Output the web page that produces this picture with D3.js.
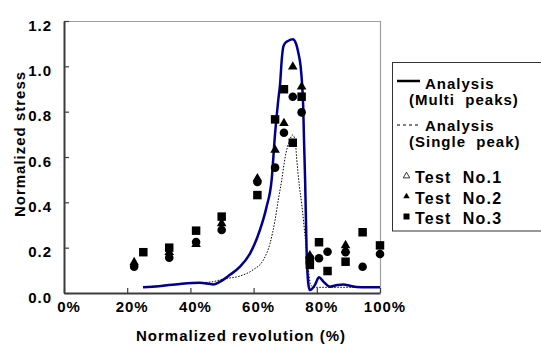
<!DOCTYPE html>
<html>
<head>
<meta charset="utf-8">
<script src="https://cdn.jsdelivr.net/npm/d3@7"></script>
<style>
  html, body { margin: 0; padding: 0; background: #fff; }
  svg { display: block; }
  text { font-family: "Liberation Sans", Arial, sans-serif; font-weight: bold; font-size: 15px; letter-spacing: 1px; fill: #000; white-space: pre; }
  text.test { font-size: 16px; letter-spacing: 1.2px; }
</style>
</head>
<body>
<div id="chart"></div>
<script>
// x values in % of normalized revolution, y = normalized stress
const multiX = [25, 30, 36.7, 43, 47.2, 49.4, 52.5, 55.7, 58.9, 62, 64.1, 65.7, 66.8, 67.8, 68.4, 68.9, 69.4, 69.9, 71, 72.4, 73.4, 74.2, 74.9, 75.4, 75.7, 75.9, 76.3, 76.8, 77.3, 77.8, 79.4, 80.7, 82.1, 84.2, 86.5, 88.4, 90.5, 92.6, 96, 100];
const multiY = [0.025, 0.03, 0.04, 0.045, 0.038, 0.05, 0.08, 0.116, 0.175, 0.278, 0.38, 0.498, 0.704, 0.851, 0.925, 1.028, 1.086, 1.101, 1.113, 1.119, 1.101, 1.057, 0.998, 0.91, 0.822, 0.704, 0.5, 0.175, 0.043, 0.013, 0.035, 0.069, 0.05, 0.028, 0.035, 0.038, 0.032, 0.026, 0.025, 0.025];

const singleX = [25, 36.7, 43, 47.2, 50.4, 55.7, 59.9, 63.1, 65.2, 66.8, 67.8, 68.9, 70, 71.3, 72.4, 73.2, 73.6, 74.5, 75.2, 76.3, 77.2, 78, 79, 85, 100];
const singleY = [0.025, 0.04, 0.045, 0.05, 0.062, 0.075, 0.103, 0.146, 0.219, 0.322, 0.41, 0.498, 0.6, 0.67, 0.697, 0.67, 0.6, 0.47, 0.396, 0.248, 0.12, 0.04, 0.025, 0.025, 0.025];

const circleX = [22.2, 33.3, 41.8, 49.9, 61.2, 66.8, 69.6, 72.4, 75.2, 77.8, 80.7, 83.4, 89.1, 94.5, 100];
const circleY = [0.116, 0.156, 0.225, 0.278, 0.49, 0.553, 0.707, 0.866, 0.797, 0.155, 0.153, 0.182, 0.18, 0.116, 0.172];

const triX = [22.2, 33.3, 41.8, 49.9, 61.2, 66.8, 69.6, 72.4, 75.2, 77.8, 89.1, 89.1];
const triY = [0.135, 0.18, 0.215, 0.307, 0.505, 0.631, 0.749, 0.998, 0.91, 0.165, 0.21, 0.19];

const squareX = [25.1, 33.3, 41.8, 49.9, 61.2, 66.8, 69.6, 72.4, 75.2, 77.8, 77.8, 80.7, 83.4, 89.1, 94.5, 100];
const squareY = [0.18, 0.2, 0.275, 0.337, 0.432, 0.766, 0.899, 0.663, 0.866, 0.124, 0.145, 0.224, 0.097, 0.138, 0.268, 0.21];

const xTicks = [0, 20, 40, 60, 80, 100];
const yTicks = [0, 0.2, 0.4, 0.6, 0.8, 1.0, 1.2];

const legendLines = ["Analysis", "(Multi  peaks)", "Analysis", "(Single  peak)"];
const legendTests = ["Test  No.1", "Test  No.2", "Test  No.3"];

const width = 541, height = 349;
const plot = { left: 64, right: 380, top: 21, bottom: 293 };

const svg = d3.select("#chart").append("svg")
  .attr("width", width)
  .attr("height", height);

svg.append("rect").attr("width", width).attr("height", height).attr("fill", "#fff");

const x = d3.scaleLinear().domain([0, 100]).range([plot.left, plot.right]);
const y = d3.scaleLinear().domain([0, 1.2]).range([plot.bottom, plot.top]);

// plot frame (top / right in light grey)
svg.append("path")
  .attr("d", `M${plot.left},${plot.top + 0.5}H${plot.right + 0.5}V${plot.bottom}`)
  .attr("fill", "none")
  .attr("stroke", "#a0a0a0")
  .attr("stroke-width", 1.2);

// axes
const xAxis = svg.append("g")
  .attr("transform", `translate(0,${plot.bottom})`)
  .call(d3.axisBottom(x).tickValues(xTicks).tickSize(-5).tickSizeOuter(0).tickFormat(d => d + "%"));

xAxis.selectAll("text").attr("y", 18.5).attr("dy", null).attr("dx", 4.5);

const yAxis = svg.append("g")
  .attr("transform", `translate(${plot.left},0)`)
  .call(d3.axisLeft(y).tickValues(yTicks).tickSize(-5).tickSizeOuter(0).tickFormat(d3.format(".1f")));

yAxis.selectAll("text").attr("x", -12).attr("dy", 9.3);

[xAxis, yAxis].forEach(g => {
  g.select(".domain").attr("stroke", "#3c3c3c").attr("stroke-width", 2);
  g.selectAll(".tick line").attr("stroke", "#3c3c3c").attr("stroke-width", 1.2);
  g.selectAll("text").attr("font-size", null).attr("font-family", null).attr("fill", "#000");
});

// curves
const line = (xs, ys) => d3.line()
  .x((d, i) => x(xs[i]))
  .y((d, i) => y(ys[i]))
  .curve(d3.curveMonotoneX)(xs);

svg.append("path")
  .attr("d", line(singleX, singleY))
  .attr("fill", "none")
  .attr("stroke", "#000")
  .attr("stroke-width", 1)
  .attr("stroke-dasharray", "1.5,1.5");

svg.append("path")
  .attr("d", line(multiX, multiY))
  .attr("fill", "none")
  .attr("stroke", "#00008c")
  .attr("stroke-width", 2.5)
  .attr("stroke-linejoin", "round");

// test points
const drawPoints = (xs, ys, type, size) => {
  svg.append("g").selectAll("path")
    .data(xs)
    .join("path")
    .attr("transform", (d, i) => `translate(${x(d)},${y(ys[i])})`)
    .attr("d", d3.symbol().type(type).size(size))
    .attr("fill", "#000");
};

drawPoints(circleX, circleY, d3.symbolCircle, 58);
drawPoints(triX, triY, d3.symbolTriangle, 40);
drawPoints(squareX, squareY, d3.symbolSquare, 72);

// legend (right edge runs off the picture)
const lg = svg.append("g");
lg.append("rect")
  .attr("x", 392.5).attr("y", 62.5)
  .attr("width", 160).attr("height", 168.5)
  .attr("fill", "#fff")
  .attr("stroke", "#333")
  .attr("stroke-width", 1);

lg.append("line").attr("x1", 397).attr("x2", 420).attr("y1", 81).attr("y2", 81)
  .attr("stroke", "#000").attr("stroke-width", 2.5);
lg.append("line").attr("x1", 397).attr("x2", 420).attr("y1", 125).attr("y2", 125)
  .attr("stroke", "#000").attr("stroke-width", 1.2).attr("stroke-dasharray", "3,3");

const lineTextPos = [[425, 88.5], [409, 104.5], [425, 130.5], [409, 146.5]];
lg.selectAll("text.ana")
  .data(legendLines)
  .join("text")
  .attr("class", "ana")
  .attr("x", (d, i) => lineTextPos[i][0])
  .attr("y", (d, i) => lineTextPos[i][1])
  .text(d => d);

const testRowY = [183, 203.5, 223.5];
lg.selectAll("text.test")
  .data(legendTests)
  .join("text")
  .attr("class", "test")
  .attr("x", 415)
  .attr("y", (d, i) => testRowY[i])
  .text(d => d);

const legendSym = [
  { type: d3.symbolTriangle, size: 18, fill: "#fff" },
  { type: d3.symbolTriangle, size: 18, fill: "#000" },
  { type: d3.symbolSquare, size: 36, fill: "#000" }
];
lg.selectAll("path.sym")
  .data(legendSym)
  .join("path")
  .attr("class", "sym")
  .attr("transform", (d, i) => `translate(406.5,${testRowY[i] - 7})`)
  .attr("d", d => d3.symbol().type(d.type).size(d.size)())
  .attr("fill", d => d.fill)
  .attr("stroke", "#000")
  .attr("stroke-width", d => d.fill === "#fff" ? 0.8 : 0);

// axis titles
svg.append("text")
  .attr("x", 241)
  .attr("y", 341)
  .attr("text-anchor", "middle")
  .text("Normalized revolution (%)");

svg.append("text")
  .attr("transform", "translate(25,144) rotate(-90)")
  .attr("text-anchor", "middle")
  .text("Normalized stress");
</script>
</body>
</html>
